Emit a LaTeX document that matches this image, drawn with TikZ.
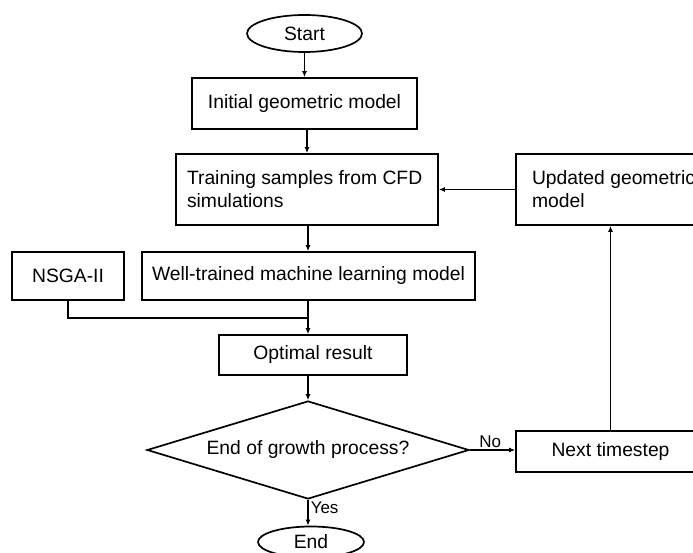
\documentclass[tikz,border=0pt]{standalone}
\usepackage{fontspec}
\setmainfont{Liberation Sans}
\usetikzlibrary{shapes.geometric,arrows.meta}

\tikzset{
  caja/.style={draw, line width=1.7pt, rectangle, inner sep=0pt,
    font=\fontsize{19.3}{23}\selectfont},
  terminal/.style={caja, ellipse},
  decision/.style={caja, diamond, aspect=3.3},
  flecha/.style={line width=1.5pt, -{Latex[length=6pt,width=5pt]}},
  linea/.style={line width=1.5pt},
  etiqueta/.style={font=\fontsize{17}{20}\selectfont, inner sep=2pt}
}

\begin{document}
\begin{tikzpicture}[x=1pt,y=-1pt]
\useasboundingbox (0,0) rectangle (693,553);
\clip (0,0) rectangle (693,553);

% Columna central
\node [terminal, minimum width=115, minimum height=37] (start) at (304.5,33.5) {Start};
\node [caja, minimum width=225, minimum height=51] (init) at (304.5,103.5) {Initial geometric model};
\node [caja, minimum height=71, text width=240, inner xsep=11pt, align=flush left] (train) at (307,189.5)
  {Training samples from CFD\\simulations};
\node [caja, minimum width=333, minimum height=48] (well) at (308.5,276) {Well-trained machine learning model};
\node [caja, minimum width=112, minimum height=48] (nsga) at (68,276) {NSGA-II};
\node [caja, minimum width=188, minimum height=40] (opt) at (313,355) {Optimal result};
\node [decision, minimum width=322, minimum height=98] (dec) at (308,450) {End of growth process?};
\node [terminal, minimum width=106, minimum height=31] (end) at (311,542) {End};

% Columna derecha
\node [caja, minimum height=41, minimum width=189] (next) at (610.5,451.5) {Next timestep};
\node [caja, minimum height=71, text width=173, inner xsep=16pt, align=flush left] (upd) at (618.5,189.5)
  {Updated geometric\\model};

% Conexiones
\coordinate (join) at (308,318);
\draw [flecha] (start) -- (init);
\draw [flecha] (init.south -| train.north) -- (train.north);
\draw [flecha] (upd.west) -- (upd.west -| train.east);
\draw [flecha] (train.south -| join) -- (join |- well.north);
\draw [linea] (nsga.south) |- (join);
\draw [flecha] (join |- well.south) -- (join |- opt.north);
\draw [flecha] (join |- opt.south) -- (join |- dec.north);
\draw [flecha] (dec.east) -- node [etiqueta, above, pos=0.45] {No} (dec.east -| next.west);
\draw [flecha] (next.north) -- (next.north |- upd.south);
\draw [flecha] (dec.south) -- node [etiqueta, right, pos=0.3] {Yes} (dec.south |- end.north);
\end{tikzpicture}
\end{document}
